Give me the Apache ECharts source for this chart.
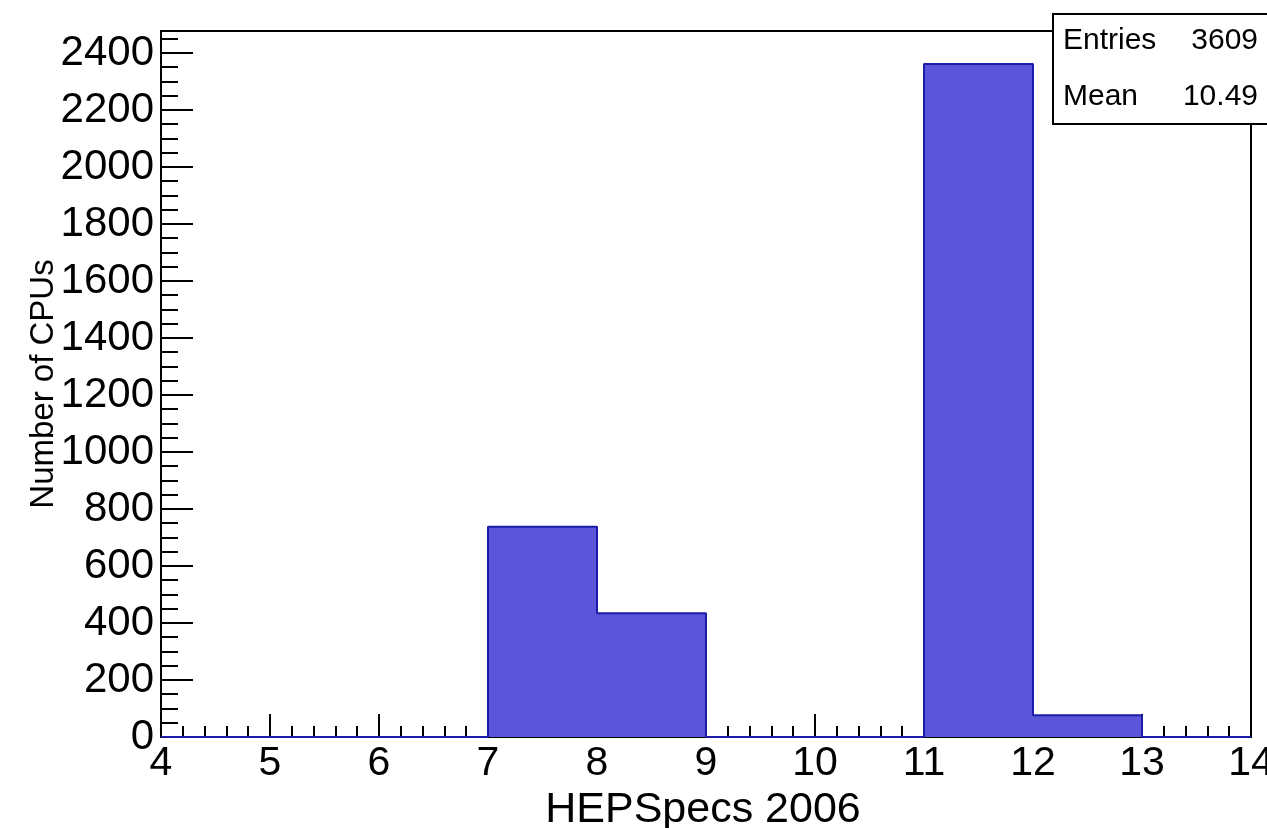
<!DOCTYPE html>
<html>
<head>
<meta charset="utf-8">
<script src="https://cdn.jsdelivr.net/npm/echarts@6/dist/echarts.min.js"></script>
<style>
html,body{margin:0;padding:0;background:#fff;}
#chart{width:1267px;height:828px;}
</style>
</head>
<body>
<div id="chart"></div>
<script>
// Histogram bins (left edges) and counts
const binEdges = [4, 5, 6, 7, 8, 9, 10, 11, 12, 13];
const counts   = [0, 0, 0, 738, 434, 0, 0, 2361, 76, 0];
const xUpper = 14;
const yMax = 2477;
const yTickLabels = [0, 200, 400, 600, 800, 1000, 1200, 1400, 1600, 1800, 2000, 2200, 2400];
const statEntries = 3609;
const statMean = 10.49;

const FONT = 'Liberation Sans, Arial, Helvetica, sans-serif';
const stepData = binEdges.map((x, i) => [x, counts[i]]);
stepData.push([xUpper, 0]);

const minorYTicks = [];
for (let v = 0; v <= yMax; v += 50) if (v % 200 !== 0) minorYTicks.push(v);

const chart = echarts.init(document.getElementById('chart'));
chart.setOption({
  animation: false,
  backgroundColor: '#fff',
  grid: {left: 161, right: 16, top: 31, bottom: 91, show: true, borderColor: '#000', borderWidth: 2,
         backgroundColor: 'transparent', outerBoundsMode: 'none', containLabel: false},
  xAxis: {
    type: 'value', min: 4, max: xUpper, interval: 1,
    name: 'HEPSpecs 2006', nameLocation: 'middle', nameGap: 41,
    nameTextStyle: {fontFamily: FONT, fontSize: 43, color: '#000', padding: [0, 6, 0, 0]},
    axisLine: {show: true, lineStyle: {color: '#000', width: 2}},
    axisTick: {show: true, inside: true, length: 23, lineStyle: {color: '#000', width: 2}},
    minorTick: {show: true, splitNumber: 5, length: 11, lineStyle: {color: '#000', width: 2}},
    splitLine: {show: false}, minorSplitLine: {show: false},
    axisLabel: {fontFamily: FONT, fontSize: 41, color: '#000', margin: 6, showMaxLabel: true,
                formatter: v => String(v)}
  },
  yAxis: [{
    type: 'value', min: 0, max: yMax,
    name: 'Number of CPUs', nameLocation: 'middle', nameGap: 101, nameMoveOverlap: false,
    nameTextStyle: {fontFamily: FONT, fontSize: 33, color: '#000'},
    axisLine: {show: true, lineStyle: {color: '#000', width: 2}},
    axisTick: {show: true, inside: true, length: 32, customValues: yTickLabels, lineStyle: {color: '#000', width: 2}},
    axisLabel: {fontFamily: FONT, fontSize: 42, color: '#000', margin: 7, customValues: yTickLabels,
                formatter: v => String(v)},
    splitLine: {show: false}
  }, {
    type: 'value', min: 0, max: yMax, position: 'left',
    axisLine: {show: false},
    axisTick: {show: true, inside: true, length: 17, customValues: minorYTicks, lineStyle: {color: '#000', width: 2}},
    axisLabel: {show: false},
    splitLine: {show: false}
  }],
  series: [{
    type: 'line', step: 'end', data: stepData, yAxisIndex: 0,
    symbol: 'none', z: 1,
    lineStyle: {color: '#1c1ca8', width: 2},
    areaStyle: {color: '#5a55d9', opacity: 1}
  }],
  graphic: [
    {type: 'rect', shape: {x: 1053, y: 14, width: 230, height: 110}, style: {fill: '#fff', stroke: '#000', lineWidth: 2}, z: 100},
    {type: 'text', x: 1063, y: 41, style: {text: 'Entries', fontFamily: FONT, fontSize: 30, fill: '#000', textVerticalAlign: 'middle', textAlign: 'left'}, z: 101},
    {type: 'text', x: 1258, y: 41, style: {text: String(statEntries), fontFamily: FONT, fontSize: 30, fill: '#000', textVerticalAlign: 'middle', textAlign: 'right'}, z: 101},
    {type: 'text', x: 1063, y: 97, style: {text: 'Mean', fontFamily: FONT, fontSize: 30, fill: '#000', textVerticalAlign: 'middle', textAlign: 'left'}, z: 101},
    {type: 'text', x: 1258, y: 97, style: {text: statMean.toFixed(2), fontFamily: FONT, fontSize: 30, fill: '#000', textVerticalAlign: 'middle', textAlign: 'right'}, z: 101}
  ]
});
</script>
</body>
</html>
